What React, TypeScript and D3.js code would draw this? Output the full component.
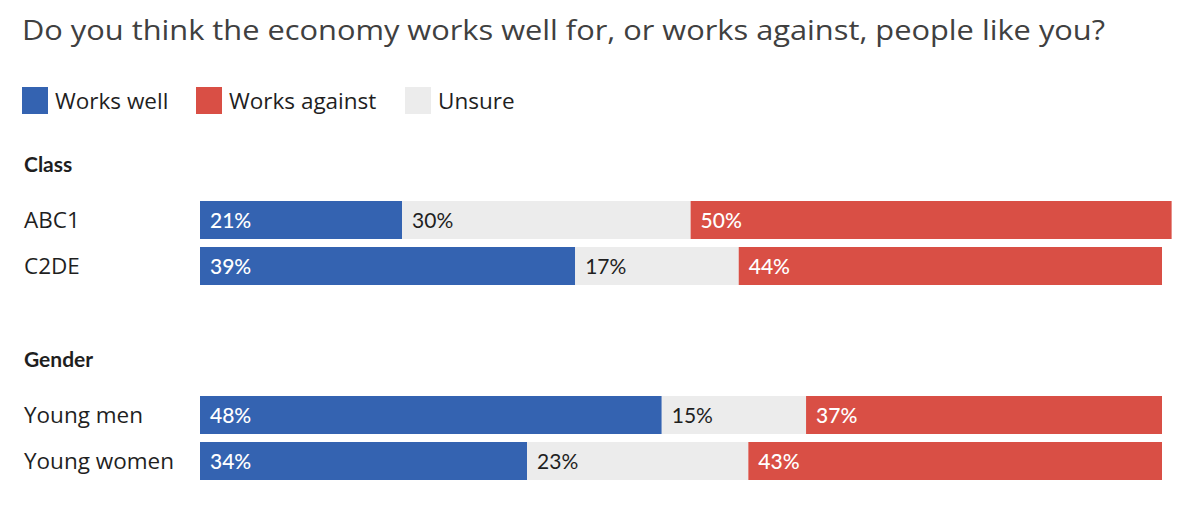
import { useEffect, useRef } from 'react';
import * as d3 from 'd3';

const TITLE = 'Do you think the economy works well for, or works against, people like you?';

const SERIES     = ['Works well', 'Unsure', 'Works against'];
const COLORS     = ['#3463b1', '#ececec', '#d94f45'];
const LEGEND     = ['Works well', 'Works against', 'Unsure'];

const GROUPS     = ['Class', 'Gender'];
const CLASS_ROWS = ['ABC1', 'C2DE'];
const GENDER_ROWS = ['Young men', 'Young women'];

const WORKS_WELL    = [21, 39, 48, 34];
const UNSURE        = [30, 17, 15, 23];
const WORKS_AGAINST = [50, 44, 37, 43];

const ROWS = [...CLASS_ROWS, ...GENDER_ROWS];

const FONT = '"Open Sans", "Noto Sans", sans-serif';
const NUM_FONT = 'Lato, "Noto Sans", sans-serif';

export default function App() {
  const ref = useRef<SVGSVGElement>(null);
  const width  = 1199;
  const height = 511;

  useEffect(() => {
    if (!ref.current) return;
    const svg = d3.select(ref.current);
    svg.selectAll('*').remove();

    svg.append('rect').attr('width', width).attr('height', height).attr('fill', '#fff');

    // Title
    svg.append('text')
      .attr('x', 22).attr('y', 40)
      .attr('font-family', FONT).attr('font-size', 27)
      .attr('fill', '#404040')
      .attr('textLength', 1083).attr('lengthAdjust', 'spacingAndGlyphs')
      .text(TITLE);

    // Legend
    const legendX = [22, 196, 405];
    const lg = svg.selectAll('.legend')
      .data(LEGEND)
      .enter().append('g')
      .attr('transform', (_d, i) => `translate(${legendX[i]},87)`);
    lg.append('rect')
      .attr('width', 26).attr('height', 27)
      .attr('fill', (d) => COLORS[SERIES.indexOf(d)]);
    lg.append('text')
      .attr('x', 33).attr('y', 22)
      .attr('font-family', FONT).attr('font-size', 22.5)
      .attr('fill', '#1f1f1f')
      .text((d) => d);

    // Scales
    const x = d3.scaleLinear().domain([0, 100]).range([200, 1162]);
    const groupTop = [201, 396];
    const groupRows = [CLASS_ROWS, GENDER_ROWS];
    const step = 46, gap = 8;

    GROUPS.forEach((grp, gi) => {
      const n = groupRows[gi].length;
      const y = d3.scaleBand<string>()
        .domain(groupRows[gi])
        .range([groupTop[gi], groupTop[gi] + step * n - gap])
        .paddingInner(gap / step)
        .paddingOuter(0);

      svg.append('text')
        .attr('x', 24).attr('y', groupTop[gi] - 29)
        .attr('font-family', NUM_FONT).attr('font-size', 21).attr('font-weight', 700)
        .attr('fill', '#1f1f1f')
        .text(grp);

      groupRows[gi].forEach((row) => {
        const idx = ROWS.indexOf(row);
        const vals = [WORKS_WELL[idx], UNSURE[idx], WORKS_AGAINST[idx]];
        const y0 = y(row)!;
        const bh = y.bandwidth();

        svg.append('text')
          .attr('x', 24).attr('y', y0 + bh / 2)
          .attr('dy', '0.36em')
          .attr('font-family', FONT).attr('font-size', 22.5)
          .attr('fill', '#1f1f1f')
          .text(row);

        let acc = 0;
        vals.forEach((v, si) => {
          const x0 = x(acc);
          const x1 = x(acc + v);
          acc += v;
          svg.append('rect')
            .attr('x', x0).attr('y', y0)
            .attr('width', x1 - x0).attr('height', bh)
            .attr('fill', COLORS[si]);
          svg.append('text')
            .attr('x', x0 + 10).attr('y', y0 + bh / 2)
            .attr('dy', '0.36em')
            .attr('font-family', NUM_FONT).attr('font-size', 21)
            .attr('font-weight', si === 1 ? 400 : 500)
            .attr('fill', si === 1 ? '#1f1f1f' : '#fff')
            .text(`${v}%`);
        });
      });
    });
  }, []);

  return (
    <svg ref={ref} width={width} height={height}
      style={{ position: 'absolute', left: 0, top: 0, display: 'block' }} />
  );
}
